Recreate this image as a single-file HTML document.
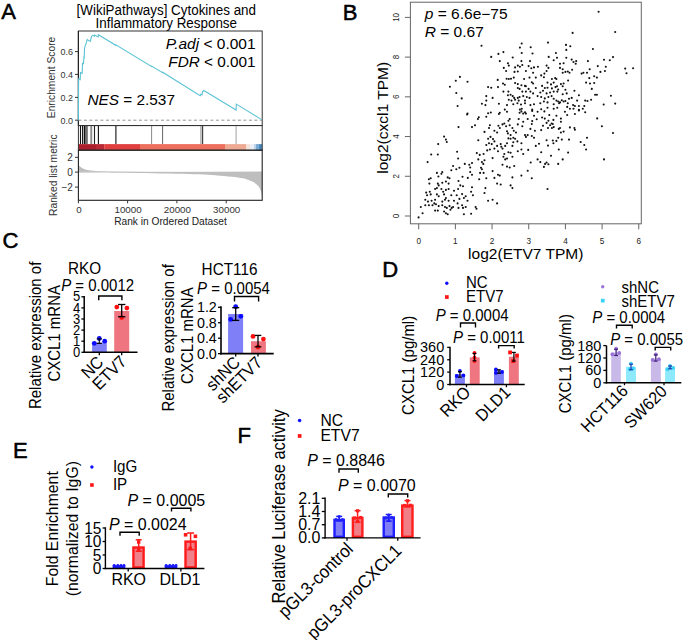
<!DOCTYPE html>
<html><head><meta charset="utf-8"><style>
html,body{margin:0;padding:0;background:#fff;width:685px;height:640px;overflow:hidden}
svg{display:block}
text{font-family:"Liberation Sans",sans-serif}
</style></head><body>
<svg width="685" height="640" viewBox="0 0 685 640">
<rect width="685" height="640" fill="#fff"/>
<text x="1.3" y="19.4" font-size="22" fill="#000" stroke="#000" stroke-width="0.55" stroke-linejoin="round">A</text>
<text font-size="13.4" text-anchor="middle" fill="#000" transform="translate(166.30,14.60) scale(1.0,1.08)">[WikiPathways] Cytokines and</text>
<text font-size="13.4" text-anchor="middle" fill="#000" transform="translate(166.30,27.70) scale(1.0,1.08)">Inflammatory Response</text>
<rect x="78.4" y="31" width="183.80" height="94.6" fill="none" stroke="#333" stroke-width="1"/>
<line x1="78.40" y1="31.00" x2="78.40" y2="125.60" stroke="#222" stroke-width="1.2" />
<line x1="78.40" y1="120.20" x2="262.20" y2="120.20" stroke="#888" stroke-width="0.9" stroke-dasharray="3,2.5"/>
<line x1="75.00" y1="120.20" x2="78.40" y2="120.20" stroke="#333" stroke-width="1" />
<text font-size="9" text-anchor="end" fill="#333" transform="translate(73.00,123.60) scale(1.0,1.08)">0.0</text>
<line x1="75.00" y1="97.40" x2="78.40" y2="97.40" stroke="#333" stroke-width="1" />
<text font-size="9" text-anchor="end" fill="#333" transform="translate(73.00,100.80) scale(1.0,1.08)">0.2</text>
<line x1="75.00" y1="74.40" x2="78.40" y2="74.40" stroke="#333" stroke-width="1" />
<text font-size="9" text-anchor="end" fill="#333" transform="translate(73.00,77.80) scale(1.0,1.08)">0.4</text>
<line x1="75.00" y1="51.60" x2="78.40" y2="51.60" stroke="#333" stroke-width="1" />
<text font-size="9" text-anchor="end" fill="#333" transform="translate(73.00,55.00) scale(1.0,1.08)">0.6</text>
<text x="55.10" y="77.45" font-size="10.25" text-anchor="middle" font-weight="normal" fill="#333" transform="rotate(-90 55.10 77.45)"  style="">Enrichment Score</text>
<path d="M78.4,120.2 L78.6,78.8 L80.2,79.6 L80.5,72.5 L82.2,73.3 L82.5,63.2 L83.5,63.6 L83.9,57.5 L84.2,57.8 L84.5,48.8 L85.3,45.2 L86,44 L86.6,41.5 L87.3,39.4 L88.5,40.6 L89.5,40.9 L90.4,41.3 L91,38.5 L91.6,36.3 L92.9,35.3 L94.3,36.1 L94.5,35 L98.2,36.9 L98.4,34.7 L115.8,45.3 L115.9,44.8 L151.5,66.4 L151.6,66 L162.5,72.6 L162.6,72.2 L200.2,95.8 L200.8,94.3 L202,95 L202.6,91.6 L203.75,90.5 L236.1,110 L236.3,104.1 L261.6,119.6" fill="none" stroke="#5cc3d4" stroke-width="1.1"/>
<text font-size="14" text-anchor="end" fill="#000" transform="translate(255.60,49.10) scale(1.107,1.07)"><tspan font-style="italic">P.adj</tspan> &lt; 0.001</text>
<text font-size="14" text-anchor="end" fill="#000" transform="translate(255.60,67.00) scale(1.095,1.07)"><tspan font-style="italic">FDR</tspan> &lt; 0.001</text>
<text font-size="14" text-anchor="start" fill="#000" transform="translate(87.50,105.30) scale(1.097,1.07)"><tspan font-style="italic">NES</tspan> = 2.537</text>
<rect x="85.00" y="125.50" width="2.80" height="18.60" fill="#6e6e6e" stroke="none" stroke-width="0" />
<rect x="90.30" y="125.50" width="1.90" height="18.60" fill="#8c8c8c" stroke="none" stroke-width="0" />
<line x1="80.50" y1="125.50" x2="80.50" y2="144.10" stroke="#111" stroke-width="1.1" />
<line x1="82.60" y1="125.50" x2="82.60" y2="144.10" stroke="#111" stroke-width="1.1" />
<line x1="84.40" y1="125.50" x2="84.40" y2="144.10" stroke="#111" stroke-width="1.2" />
<line x1="94.50" y1="125.50" x2="94.50" y2="144.10" stroke="#222" stroke-width="1.1" />
<line x1="98.40" y1="125.50" x2="98.40" y2="144.10" stroke="#111" stroke-width="1.1" />
<line x1="115.90" y1="125.50" x2="115.90" y2="144.10" stroke="#111" stroke-width="1.1" />
<line x1="151.60" y1="125.50" x2="151.60" y2="144.10" stroke="#888" stroke-width="1" />
<line x1="162.60" y1="125.50" x2="162.60" y2="144.10" stroke="#555" stroke-width="0.9" />
<line x1="200.80" y1="125.50" x2="200.80" y2="144.10" stroke="#999" stroke-width="0.9" />
<line x1="202.50" y1="125.50" x2="202.50" y2="144.10" stroke="#444" stroke-width="1.4" />
<line x1="236.10" y1="125.50" x2="236.10" y2="144.10" stroke="#aaa" stroke-width="1.1" />
<rect x="78.40" y="144.10" width="17.60" height="5.90" fill="#ac1f2c" stroke="none" stroke-width="0" />
<rect x="96.00" y="144.10" width="8.20" height="5.90" fill="#b82a35" stroke="none" stroke-width="0" />
<rect x="104.20" y="144.10" width="35.80" height="5.90" fill="#e0403f" stroke="none" stroke-width="0" />
<rect x="140.00" y="144.10" width="85.00" height="5.90" fill="#ed6f5d" stroke="none" stroke-width="0" />
<rect x="225.00" y="144.10" width="21.00" height="5.90" fill="#eeaa94" stroke="none" stroke-width="0" />
<rect x="246.00" y="144.10" width="4.00" height="5.90" fill="#f5e3da" stroke="none" stroke-width="0" />
<rect x="250.00" y="144.10" width="4.00" height="5.90" fill="#eaeef6" stroke="none" stroke-width="0" />
<rect x="254.00" y="144.10" width="2.00" height="5.90" fill="#bcd3ea" stroke="none" stroke-width="0" />
<rect x="256.00" y="144.10" width="2.50" height="5.90" fill="#7aaad4" stroke="none" stroke-width="0" />
<rect x="258.50" y="144.10" width="3.70" height="5.90" fill="#4a88c0" stroke="none" stroke-width="0" />
<rect x="78.4" y="125.5" width="183.80" height="24.70" fill="none" stroke="#333" stroke-width="1"/>
<path d="M78.4,172.1 L78.4,165 C80,166.5 82,168.8 86,169.8 C92,170.9 100,171.3 110,171.6 L150,171.9 L200,172.1 Z" fill="#bdbdbd"/>
<defs><linearGradient id="zl" gradientUnits="userSpaceOnUse" x1="78.4" y1="0" x2="262" y2="0"><stop offset="0" stop-color="#c8c8c8"/><stop offset="0.35" stop-color="#e4e4e4"/><stop offset="0.6" stop-color="#ececec"/><stop offset="0.8" stop-color="#d8d8d8"/><stop offset="1" stop-color="#c0c0c0"/></linearGradient></defs>
<path d="M78.4,172.1 L262,172.1" stroke="url(#zl)" stroke-width="1.2"/>
<path d="M110,172.1 L262,172.1 L262,196 C261.5,191 259.5,187 257.8,185.5 C255,182.5 252,181 243.4,178.3 C236,177 228.9,176.4 215,175.2 C200,174.3 160,173.5 110,172.6 Z" fill="#bebebe"/>
<rect x="78.4" y="150.2" width="183.80" height="50.10" fill="none" stroke="#222" stroke-width="1.1"/>
<line x1="75.00" y1="157.30" x2="78.40" y2="157.30" stroke="#333" stroke-width="1" />
<text font-size="10" text-anchor="end" fill="#333" transform="translate(72.90,160.90) scale(1.0,1.0)">2</text>
<line x1="75.00" y1="172.10" x2="78.40" y2="172.10" stroke="#333" stroke-width="1" />
<text font-size="10" text-anchor="end" fill="#333" transform="translate(72.90,175.70) scale(1.0,1.0)">0</text>
<line x1="75.00" y1="187.10" x2="78.40" y2="187.10" stroke="#333" stroke-width="1" />
<text font-size="10" text-anchor="end" fill="#333" transform="translate(72.90,190.70) scale(1.0,1.0)">−2</text>
<text x="56.70" y="175.20" font-size="10.25" text-anchor="middle" font-weight="normal" fill="#333" transform="rotate(-90 56.70 175.20)"  style="">Ranked list metric</text>
<line x1="78.40" y1="200.30" x2="78.40" y2="203.30" stroke="#333" stroke-width="1" />
<text font-size="9" text-anchor="middle" fill="#333" transform="translate(78.90,212.50) scale(1.09,1.08)">0</text>
<line x1="127.60" y1="200.30" x2="127.60" y2="203.30" stroke="#333" stroke-width="1" />
<text font-size="9" text-anchor="middle" fill="#333" transform="translate(128.10,212.50) scale(1.09,1.08)">10000</text>
<line x1="176.90" y1="200.30" x2="176.90" y2="203.30" stroke="#333" stroke-width="1" />
<text font-size="9" text-anchor="middle" fill="#333" transform="translate(177.40,212.50) scale(1.09,1.08)">20000</text>
<line x1="226.20" y1="200.30" x2="226.20" y2="203.30" stroke="#333" stroke-width="1" />
<text font-size="9" text-anchor="middle" fill="#333" transform="translate(226.70,212.50) scale(1.09,1.08)">30000</text>
<text x="170.50" y="224.60" font-size="10.2" text-anchor="middle" font-weight="normal" fill="#222"  style="">Rank in Ordered Dataset</text>
<text x="342.7" y="19.6" font-size="22" fill="#000" stroke="#000" stroke-width="0.55" stroke-linejoin="round">B</text>
<rect x="410.4" y="2.2" width="230.90" height="221.60" fill="none" stroke="#666" stroke-width="1"/>
<line x1="418.70" y1="223.80" x2="418.70" y2="229.30" stroke="#666" stroke-width="1" />
<text font-size="8.2" text-anchor="middle" fill="#222" transform="translate(418.70,243.50) scale(1.0,1.08)">0</text>
<line x1="455.38" y1="223.80" x2="455.38" y2="229.30" stroke="#666" stroke-width="1" />
<text font-size="8.2" text-anchor="middle" fill="#222" transform="translate(455.38,243.50) scale(1.0,1.08)">1</text>
<line x1="492.06" y1="223.80" x2="492.06" y2="229.30" stroke="#666" stroke-width="1" />
<text font-size="8.2" text-anchor="middle" fill="#222" transform="translate(492.06,243.50) scale(1.0,1.08)">2</text>
<line x1="528.74" y1="223.80" x2="528.74" y2="229.30" stroke="#666" stroke-width="1" />
<text font-size="8.2" text-anchor="middle" fill="#222" transform="translate(528.74,243.50) scale(1.0,1.08)">3</text>
<line x1="565.42" y1="223.80" x2="565.42" y2="229.30" stroke="#666" stroke-width="1" />
<text font-size="8.2" text-anchor="middle" fill="#222" transform="translate(565.42,243.50) scale(1.0,1.08)">4</text>
<line x1="602.10" y1="223.80" x2="602.10" y2="229.30" stroke="#666" stroke-width="1" />
<text font-size="8.2" text-anchor="middle" fill="#222" transform="translate(602.10,243.50) scale(1.0,1.08)">5</text>
<line x1="638.78" y1="223.80" x2="638.78" y2="229.30" stroke="#666" stroke-width="1" />
<text font-size="8.2" text-anchor="middle" fill="#222" transform="translate(638.78,243.50) scale(1.0,1.08)">6</text>
<line x1="404.90" y1="216.00" x2="410.40" y2="216.00" stroke="#666" stroke-width="1" />
<text font-size="8" text-anchor="middle" fill="#222" transform="translate(399.20,216.00) rotate(-90) scale(1.0,1.15)">0</text>
<line x1="404.90" y1="176.28" x2="410.40" y2="176.28" stroke="#666" stroke-width="1" />
<text font-size="8" text-anchor="middle" fill="#222" transform="translate(399.20,176.28) rotate(-90) scale(1.0,1.15)">2</text>
<line x1="404.90" y1="136.56" x2="410.40" y2="136.56" stroke="#666" stroke-width="1" />
<text font-size="8" text-anchor="middle" fill="#222" transform="translate(399.20,136.56) rotate(-90) scale(1.0,1.15)">4</text>
<line x1="404.90" y1="96.84" x2="410.40" y2="96.84" stroke="#666" stroke-width="1" />
<text font-size="8" text-anchor="middle" fill="#222" transform="translate(399.20,96.84) rotate(-90) scale(1.0,1.15)">6</text>
<line x1="404.90" y1="57.12" x2="410.40" y2="57.12" stroke="#666" stroke-width="1" />
<text font-size="8" text-anchor="middle" fill="#222" transform="translate(399.20,57.12) rotate(-90) scale(1.0,1.15)">8</text>
<line x1="404.90" y1="17.40" x2="410.40" y2="17.40" stroke="#666" stroke-width="1" />
<text font-size="8" text-anchor="middle" fill="#222" transform="translate(399.20,17.40) rotate(-90) scale(1.0,1.15)">10</text>
<text font-size="14" text-anchor="middle" transform="translate(525.8,259.4) scale(1.11,1)">log2(ETV7 TPM)</text>
<text font-size="14" text-anchor="middle" transform="translate(388.4,117.8) rotate(-90) scale(1.11,1)">log2(cxcl1 TPM)</text>
<text font-size="14" transform="translate(424.7,18.9) scale(1.11,1.04)"><tspan font-style="italic">p</tspan> = 6.6e−75</text>
<text font-size="14" transform="translate(424.7,37.4) scale(1.11,1.04)"><tspan font-style="italic">R</tspan> = 0.67</text>
<g fill="#111"><circle cx="467.5" cy="113.6" r="1.05"/><circle cx="467.1" cy="114.5" r="1.05"/><circle cx="488.1" cy="113.2" r="1.05"/><circle cx="490.8" cy="112.5" r="1.05"/><circle cx="498.9" cy="114.0" r="1.05"/><circle cx="499.8" cy="112.7" r="1.05"/><circle cx="507.0" cy="111.8" r="1.05"/><circle cx="519.6" cy="112.7" r="1.05"/><circle cx="521.4" cy="111.4" r="1.05"/><circle cx="523.2" cy="113.6" r="1.05"/><circle cx="525.0" cy="112.2" r="1.05"/><circle cx="478.8" cy="117.2" r="1.05"/><circle cx="477.9" cy="119.0" r="1.05"/><circle cx="486.3" cy="116.8" r="1.05"/><circle cx="509.7" cy="119.0" r="1.05"/><circle cx="508.4" cy="120.8" r="1.05"/><circle cx="518.7" cy="119.0" r="1.05"/><circle cx="523.2" cy="121.7" r="1.05"/><circle cx="458.5" cy="127.1" r="1.05"/><circle cx="472.0" cy="127.1" r="1.05"/><circle cx="475.0" cy="125.3" r="1.05"/><circle cx="489.0" cy="128.0" r="1.05"/><circle cx="489.9" cy="125.3" r="1.05"/><circle cx="498.4" cy="125.8" r="1.05"/><circle cx="499.8" cy="128.0" r="1.05"/><circle cx="504.3" cy="123.5" r="1.05"/><circle cx="502.5" cy="124.4" r="1.05"/><circle cx="506.1" cy="126.2" r="1.05"/><circle cx="509.7" cy="125.3" r="1.05"/><circle cx="512.4" cy="128.0" r="1.05"/><circle cx="513.8" cy="130.7" r="1.05"/><circle cx="517.8" cy="124.4" r="1.05"/><circle cx="522.3" cy="126.2" r="1.05"/><circle cx="484.5" cy="131.9" r="1.05"/><circle cx="494.4" cy="130.7" r="1.05"/><circle cx="497.1" cy="132.5" r="1.05"/><circle cx="507.0" cy="131.2" r="1.05"/><circle cx="507.9" cy="133.4" r="1.05"/><circle cx="516.0" cy="132.5" r="1.05"/><circle cx="510.6" cy="135.1" r="1.05"/><circle cx="525.0" cy="135.1" r="1.05"/><circle cx="444.1" cy="136.6" r="1.05"/><circle cx="445.9" cy="139.6" r="1.05"/><circle cx="446.8" cy="142.0" r="1.05"/><circle cx="478.3" cy="140.2" r="1.05"/><circle cx="488.1" cy="138.7" r="1.05"/><circle cx="490.5" cy="136.9" r="1.05"/><circle cx="493.0" cy="139.1" r="1.05"/><circle cx="494.4" cy="141.4" r="1.05"/><circle cx="489.0" cy="143.2" r="1.05"/><circle cx="491.7" cy="144.1" r="1.05"/><circle cx="508.4" cy="138.4" r="1.05"/><circle cx="510.6" cy="138.7" r="1.05"/><circle cx="513.3" cy="137.8" r="1.05"/><circle cx="515.1" cy="138.7" r="1.05"/><circle cx="517.4" cy="141.4" r="1.05"/><circle cx="513.3" cy="142.3" r="1.05"/><circle cx="521.4" cy="143.2" r="1.05"/><circle cx="438.2" cy="144.1" r="1.05"/><circle cx="486.3" cy="145.0" r="1.05"/><circle cx="497.1" cy="145.9" r="1.05"/><circle cx="501.3" cy="146.8" r="1.05"/><circle cx="502.5" cy="148.6" r="1.05"/><circle cx="500.7" cy="144.1" r="1.05"/><circle cx="505.2" cy="145.9" r="1.05"/><circle cx="507.0" cy="143.2" r="1.05"/><circle cx="512.4" cy="145.9" r="1.05"/><circle cx="431.2" cy="154.5" r="1.05"/><circle cx="437.8" cy="154.5" r="1.05"/><circle cx="457.1" cy="151.7" r="1.05"/><circle cx="458.1" cy="158.5" r="1.05"/><circle cx="476.8" cy="153.1" r="1.05"/><circle cx="479.7" cy="154.9" r="1.05"/><circle cx="483.6" cy="154.0" r="1.05"/><circle cx="487.2" cy="150.4" r="1.05"/><circle cx="489.9" cy="149.5" r="1.05"/><circle cx="494.4" cy="148.6" r="1.05"/><circle cx="498.0" cy="151.3" r="1.05"/><circle cx="504.3" cy="154.0" r="1.05"/><circle cx="508.4" cy="152.2" r="1.05"/><circle cx="510.6" cy="152.8" r="1.05"/><circle cx="512.4" cy="156.7" r="1.05"/><circle cx="517.8" cy="151.3" r="1.05"/><circle cx="521.4" cy="149.5" r="1.05"/><circle cx="523.2" cy="154.0" r="1.05"/><circle cx="427.6" cy="162.1" r="1.05"/><circle cx="464.8" cy="163.9" r="1.05"/><circle cx="469.3" cy="164.8" r="1.05"/><circle cx="472.0" cy="163.0" r="1.05"/><circle cx="478.3" cy="159.4" r="1.05"/><circle cx="481.9" cy="162.1" r="1.05"/><circle cx="484.5" cy="160.3" r="1.05"/><circle cx="483.3" cy="163.9" r="1.05"/><circle cx="492.6" cy="158.1" r="1.05"/><circle cx="503.4" cy="156.7" r="1.05"/><circle cx="505.2" cy="159.4" r="1.05"/><circle cx="507.0" cy="158.5" r="1.05"/><circle cx="453.1" cy="166.0" r="1.05"/><circle cx="456.3" cy="169.3" r="1.05"/><circle cx="459.4" cy="167.8" r="1.05"/><circle cx="470.2" cy="167.5" r="1.05"/><circle cx="481.0" cy="167.8" r="1.05"/><circle cx="481.9" cy="169.3" r="1.05"/><circle cx="502.5" cy="164.8" r="1.05"/><circle cx="507.0" cy="166.6" r="1.05"/><circle cx="509.7" cy="167.5" r="1.05"/><circle cx="514.2" cy="166.0" r="1.05"/><circle cx="436.9" cy="172.9" r="1.05"/><circle cx="442.3" cy="172.0" r="1.05"/><circle cx="441.4" cy="173.8" r="1.05"/><circle cx="451.3" cy="170.2" r="1.05"/><circle cx="470.2" cy="172.0" r="1.05"/><circle cx="472.0" cy="174.7" r="1.05"/><circle cx="480.1" cy="172.9" r="1.05"/><circle cx="483.6" cy="172.9" r="1.05"/><circle cx="492.6" cy="171.1" r="1.05"/><circle cx="428.9" cy="179.2" r="1.05"/><circle cx="430.7" cy="178.3" r="1.05"/><circle cx="447.7" cy="177.4" r="1.05"/><circle cx="449.5" cy="178.3" r="1.05"/><circle cx="438.4" cy="176.5" r="1.05"/><circle cx="462.5" cy="176.8" r="1.05"/><circle cx="467.8" cy="177.9" r="1.05"/><circle cx="479.2" cy="179.2" r="1.05"/><circle cx="486.3" cy="178.3" r="1.05"/><circle cx="494.4" cy="177.9" r="1.05"/><circle cx="498.0" cy="174.7" r="1.05"/><circle cx="499.8" cy="175.6" r="1.05"/><circle cx="512.4" cy="177.4" r="1.05"/><circle cx="521.4" cy="175.6" r="1.05"/><circle cx="429.4" cy="183.6" r="1.05"/><circle cx="437.8" cy="183.6" r="1.05"/><circle cx="438.7" cy="185.4" r="1.05"/><circle cx="442.3" cy="182.8" r="1.05"/><circle cx="445.9" cy="181.5" r="1.05"/><circle cx="448.6" cy="183.6" r="1.05"/><circle cx="458.5" cy="181.0" r="1.05"/><circle cx="460.3" cy="185.4" r="1.05"/><circle cx="497.1" cy="183.6" r="1.05"/><circle cx="500.7" cy="184.5" r="1.05"/><circle cx="510.6" cy="185.4" r="1.05"/><circle cx="512.4" cy="188.1" r="1.05"/><circle cx="426.2" cy="192.6" r="1.05"/><circle cx="429.8" cy="191.7" r="1.05"/><circle cx="435.1" cy="189.0" r="1.05"/><circle cx="436.9" cy="188.1" r="1.05"/><circle cx="441.4" cy="189.0" r="1.05"/><circle cx="443.2" cy="191.7" r="1.05"/><circle cx="445.9" cy="189.9" r="1.05"/><circle cx="448.6" cy="189.0" r="1.05"/><circle cx="454.0" cy="190.8" r="1.05"/><circle cx="458.1" cy="189.0" r="1.05"/><circle cx="463.0" cy="186.3" r="1.05"/><circle cx="472.0" cy="187.2" r="1.05"/><circle cx="485.4" cy="188.1" r="1.05"/><circle cx="471.1" cy="191.7" r="1.05"/><circle cx="427.1" cy="195.3" r="1.05"/><circle cx="430.7" cy="194.4" r="1.05"/><circle cx="436.9" cy="194.4" r="1.05"/><circle cx="438.7" cy="196.2" r="1.05"/><circle cx="444.1" cy="194.4" r="1.05"/><circle cx="445.9" cy="198.0" r="1.05"/><circle cx="451.3" cy="195.3" r="1.05"/><circle cx="456.7" cy="195.3" r="1.05"/><circle cx="462.1" cy="194.1" r="1.05"/><circle cx="465.7" cy="196.2" r="1.05"/><circle cx="472.9" cy="195.3" r="1.05"/><circle cx="484.5" cy="193.0" r="1.05"/><circle cx="425.3" cy="199.8" r="1.05"/><circle cx="428.0" cy="201.6" r="1.05"/><circle cx="431.6" cy="200.7" r="1.05"/><circle cx="435.1" cy="199.8" r="1.05"/><circle cx="442.3" cy="201.6" r="1.05"/><circle cx="445.0" cy="199.8" r="1.05"/><circle cx="448.6" cy="200.7" r="1.05"/><circle cx="454.0" cy="200.7" r="1.05"/><circle cx="459.4" cy="198.9" r="1.05"/><circle cx="463.9" cy="198.0" r="1.05"/><circle cx="467.5" cy="200.7" r="1.05"/><circle cx="488.1" cy="200.7" r="1.05"/><circle cx="492.6" cy="199.8" r="1.05"/><circle cx="497.1" cy="203.4" r="1.05"/><circle cx="420.8" cy="207.0" r="1.05"/><circle cx="425.3" cy="205.2" r="1.05"/><circle cx="428.9" cy="205.2" r="1.05"/><circle cx="432.5" cy="205.2" r="1.05"/><circle cx="434.3" cy="203.4" r="1.05"/><circle cx="436.0" cy="204.3" r="1.05"/><circle cx="438.7" cy="206.1" r="1.05"/><circle cx="442.3" cy="205.2" r="1.05"/><circle cx="445.0" cy="207.0" r="1.05"/><circle cx="446.8" cy="207.9" r="1.05"/><circle cx="449.5" cy="206.1" r="1.05"/><circle cx="451.7" cy="207.9" r="1.05"/><circle cx="453.1" cy="207.0" r="1.05"/><circle cx="457.6" cy="203.4" r="1.05"/><circle cx="458.5" cy="207.9" r="1.05"/><circle cx="462.1" cy="205.2" r="1.05"/><circle cx="463.0" cy="207.9" r="1.05"/><circle cx="465.7" cy="207.0" r="1.05"/><circle cx="475.6" cy="207.0" r="1.05"/><circle cx="476.5" cy="208.8" r="1.05"/><circle cx="422.6" cy="213.3" r="1.05"/><circle cx="435.1" cy="210.6" r="1.05"/><circle cx="437.8" cy="210.6" r="1.05"/><circle cx="444.1" cy="211.5" r="1.05"/><circle cx="445.9" cy="213.3" r="1.05"/><circle cx="447.7" cy="214.2" r="1.05"/><circle cx="450.4" cy="209.7" r="1.05"/><circle cx="463.9" cy="214.2" r="1.05"/><circle cx="471.1" cy="213.8" r="1.05"/><circle cx="418.6" cy="217.4" r="1.05"/><circle cx="525.9" cy="113.6" r="1.05"/><circle cx="532.2" cy="110.9" r="1.05"/><circle cx="537.6" cy="111.8" r="1.05"/><circle cx="544.4" cy="111.4" r="1.05"/><circle cx="564.9" cy="111.8" r="1.05"/><circle cx="578.9" cy="110.4" r="1.05"/><circle cx="585.2" cy="112.2" r="1.05"/><circle cx="527.7" cy="119.0" r="1.05"/><circle cx="532.2" cy="121.1" r="1.05"/><circle cx="534.0" cy="115.7" r="1.05"/><circle cx="536.7" cy="119.3" r="1.05"/><circle cx="542.1" cy="117.5" r="1.05"/><circle cx="544.8" cy="118.6" r="1.05"/><circle cx="549.3" cy="115.0" r="1.05"/><circle cx="553.4" cy="119.9" r="1.05"/><circle cx="556.4" cy="115.7" r="1.05"/><circle cx="560.9" cy="118.6" r="1.05"/><circle cx="567.2" cy="115.0" r="1.05"/><circle cx="574.9" cy="114.0" r="1.05"/><circle cx="597.2" cy="118.4" r="1.05"/><circle cx="531.8" cy="124.0" r="1.05"/><circle cx="543.0" cy="125.8" r="1.05"/><circle cx="546.6" cy="122.9" r="1.05"/><circle cx="548.4" cy="120.8" r="1.05"/><circle cx="550.1" cy="125.3" r="1.05"/><circle cx="551.6" cy="123.5" r="1.05"/><circle cx="552.8" cy="124.0" r="1.05"/><circle cx="553.7" cy="127.1" r="1.05"/><circle cx="560.9" cy="121.7" r="1.05"/><circle cx="551.9" cy="128.0" r="1.05"/><circle cx="548.0" cy="128.0" r="1.05"/><circle cx="569.9" cy="127.4" r="1.05"/><circle cx="574.4" cy="128.0" r="1.05"/><circle cx="574.9" cy="129.8" r="1.05"/><circle cx="601.9" cy="126.2" r="1.05"/><circle cx="530.4" cy="128.9" r="1.05"/><circle cx="534.9" cy="130.7" r="1.05"/><circle cx="541.2" cy="130.1" r="1.05"/><circle cx="558.8" cy="128.9" r="1.05"/><circle cx="560.0" cy="128.0" r="1.05"/><circle cx="560.9" cy="132.5" r="1.05"/><circle cx="563.6" cy="131.6" r="1.05"/><circle cx="613.0" cy="133.0" r="1.05"/><circle cx="525.9" cy="136.9" r="1.05"/><circle cx="527.7" cy="135.1" r="1.05"/><circle cx="531.8" cy="136.0" r="1.05"/><circle cx="534.0" cy="137.8" r="1.05"/><circle cx="546.6" cy="140.2" r="1.05"/><circle cx="552.8" cy="140.5" r="1.05"/><circle cx="556.4" cy="140.9" r="1.05"/><circle cx="558.2" cy="137.8" r="1.05"/><circle cx="553.4" cy="143.2" r="1.05"/><circle cx="561.8" cy="139.6" r="1.05"/><circle cx="569.0" cy="139.6" r="1.05"/><circle cx="580.7" cy="142.0" r="1.05"/><circle cx="587.0" cy="137.8" r="1.05"/><circle cx="584.3" cy="145.0" r="1.05"/><circle cx="535.8" cy="145.9" r="1.05"/><circle cx="539.0" cy="143.8" r="1.05"/><circle cx="528.2" cy="149.9" r="1.05"/><circle cx="548.0" cy="145.6" r="1.05"/><circle cx="541.2" cy="152.2" r="1.05"/><circle cx="558.8" cy="149.5" r="1.05"/><circle cx="568.1" cy="152.6" r="1.05"/><circle cx="586.1" cy="149.5" r="1.05"/><circle cx="551.0" cy="155.8" r="1.05"/><circle cx="537.6" cy="159.4" r="1.05"/><circle cx="540.3" cy="162.1" r="1.05"/><circle cx="530.7" cy="162.5" r="1.05"/><circle cx="545.1" cy="163.9" r="1.05"/><circle cx="546.6" cy="162.5" r="1.05"/><circle cx="548.4" cy="164.2" r="1.05"/><circle cx="543.9" cy="166.9" r="1.05"/><circle cx="558.2" cy="163.9" r="1.05"/><circle cx="562.7" cy="159.4" r="1.05"/><circle cx="604.0" cy="159.4" r="1.05"/><circle cx="527.7" cy="170.7" r="1.05"/><circle cx="531.8" cy="178.3" r="1.05"/><circle cx="547.5" cy="189.0" r="1.05"/><circle cx="598.6" cy="11.7" r="1.05"/><circle cx="572.6" cy="32.9" r="1.05"/><circle cx="615.2" cy="32.0" r="1.05"/><circle cx="548.0" cy="42.6" r="1.05"/><circle cx="530.7" cy="47.2" r="1.05"/><circle cx="566.0" cy="44.9" r="1.05"/><circle cx="570.3" cy="46.3" r="1.05"/><circle cx="566.3" cy="49.9" r="1.05"/><circle cx="592.9" cy="49.0" r="1.05"/><circle cx="532.5" cy="53.5" r="1.05"/><circle cx="555.9" cy="53.0" r="1.05"/><circle cx="548.7" cy="56.9" r="1.05"/><circle cx="557.0" cy="57.8" r="1.05"/><circle cx="566.3" cy="57.8" r="1.05"/><circle cx="613.0" cy="57.1" r="1.05"/><circle cx="530.0" cy="61.1" r="1.05"/><circle cx="553.7" cy="60.2" r="1.05"/><circle cx="560.0" cy="63.8" r="1.05"/><circle cx="563.6" cy="63.2" r="1.05"/><circle cx="571.7" cy="59.6" r="1.05"/><circle cx="573.5" cy="62.0" r="1.05"/><circle cx="576.2" cy="61.1" r="1.05"/><circle cx="575.7" cy="63.8" r="1.05"/><circle cx="587.9" cy="61.1" r="1.05"/><circle cx="604.0" cy="59.8" r="1.05"/><circle cx="609.8" cy="60.2" r="1.05"/><circle cx="528.6" cy="66.1" r="1.05"/><circle cx="531.3" cy="68.3" r="1.05"/><circle cx="534.0" cy="67.4" r="1.05"/><circle cx="537.9" cy="66.8" r="1.05"/><circle cx="546.6" cy="65.6" r="1.05"/><circle cx="548.4" cy="67.9" r="1.05"/><circle cx="560.0" cy="67.9" r="1.05"/><circle cx="562.7" cy="69.2" r="1.05"/><circle cx="565.4" cy="71.9" r="1.05"/><circle cx="567.8" cy="71.5" r="1.05"/><circle cx="572.1" cy="69.7" r="1.05"/><circle cx="581.6" cy="73.6" r="1.05"/><circle cx="583.4" cy="72.8" r="1.05"/><circle cx="587.0" cy="72.8" r="1.05"/><circle cx="589.7" cy="69.2" r="1.05"/><circle cx="597.8" cy="66.1" r="1.05"/><circle cx="600.4" cy="71.9" r="1.05"/><circle cx="604.9" cy="71.0" r="1.05"/><circle cx="605.8" cy="66.8" r="1.05"/><circle cx="625.2" cy="68.6" r="1.05"/><circle cx="626.5" cy="73.3" r="1.05"/><circle cx="633.1" cy="68.3" r="1.05"/><circle cx="525.9" cy="71.0" r="1.05"/><circle cx="533.1" cy="72.8" r="1.05"/><circle cx="546.6" cy="71.0" r="1.05"/><circle cx="544.4" cy="73.6" r="1.05"/><circle cx="541.2" cy="75.4" r="1.05"/><circle cx="543.9" cy="77.2" r="1.05"/><circle cx="529.5" cy="77.6" r="1.05"/><circle cx="535.8" cy="77.6" r="1.05"/><circle cx="551.9" cy="79.0" r="1.05"/><circle cx="555.2" cy="78.1" r="1.05"/><circle cx="556.4" cy="79.0" r="1.05"/><circle cx="562.7" cy="72.8" r="1.05"/><circle cx="569.5" cy="72.8" r="1.05"/><circle cx="589.3" cy="78.1" r="1.05"/><circle cx="594.2" cy="76.3" r="1.05"/><circle cx="596.9" cy="77.6" r="1.05"/><circle cx="531.8" cy="82.3" r="1.05"/><circle cx="533.1" cy="83.5" r="1.05"/><circle cx="547.5" cy="82.6" r="1.05"/><circle cx="551.0" cy="84.4" r="1.05"/><circle cx="553.7" cy="82.6" r="1.05"/><circle cx="560.9" cy="84.1" r="1.05"/><circle cx="563.6" cy="83.5" r="1.05"/><circle cx="568.1" cy="80.5" r="1.05"/><circle cx="586.1" cy="82.6" r="1.05"/><circle cx="590.0" cy="83.5" r="1.05"/><circle cx="594.2" cy="83.0" r="1.05"/><circle cx="525.9" cy="86.2" r="1.05"/><circle cx="528.6" cy="88.9" r="1.05"/><circle cx="535.8" cy="88.0" r="1.05"/><circle cx="542.1" cy="85.9" r="1.05"/><circle cx="544.8" cy="88.0" r="1.05"/><circle cx="547.5" cy="87.7" r="1.05"/><circle cx="551.9" cy="88.4" r="1.05"/><circle cx="555.5" cy="87.1" r="1.05"/><circle cx="557.0" cy="86.2" r="1.05"/><circle cx="558.2" cy="89.5" r="1.05"/><circle cx="562.7" cy="86.2" r="1.05"/><circle cx="565.4" cy="89.8" r="1.05"/><circle cx="591.8" cy="88.9" r="1.05"/><circle cx="525.9" cy="91.6" r="1.05"/><circle cx="530.4" cy="91.6" r="1.05"/><circle cx="533.1" cy="93.4" r="1.05"/><circle cx="540.3" cy="92.5" r="1.05"/><circle cx="543.0" cy="90.7" r="1.05"/><circle cx="546.6" cy="93.4" r="1.05"/><circle cx="550.1" cy="92.5" r="1.05"/><circle cx="553.7" cy="91.6" r="1.05"/><circle cx="557.3" cy="91.6" r="1.05"/><circle cx="562.7" cy="94.3" r="1.05"/><circle cx="566.7" cy="93.4" r="1.05"/><circle cx="574.4" cy="90.7" r="1.05"/><circle cx="578.9" cy="95.2" r="1.05"/><circle cx="595.1" cy="94.8" r="1.05"/><circle cx="596.9" cy="94.8" r="1.05"/><circle cx="610.9" cy="95.7" r="1.05"/><circle cx="526.8" cy="97.0" r="1.05"/><circle cx="529.5" cy="97.9" r="1.05"/><circle cx="537.6" cy="96.1" r="1.05"/><circle cx="541.2" cy="97.0" r="1.05"/><circle cx="544.8" cy="98.4" r="1.05"/><circle cx="548.4" cy="97.0" r="1.05"/><circle cx="551.6" cy="96.1" r="1.05"/><circle cx="553.7" cy="98.8" r="1.05"/><circle cx="556.4" cy="100.6" r="1.05"/><circle cx="558.2" cy="101.5" r="1.05"/><circle cx="560.0" cy="102.4" r="1.05"/><circle cx="561.8" cy="100.2" r="1.05"/><circle cx="563.6" cy="101.5" r="1.05"/><circle cx="565.4" cy="101.0" r="1.05"/><circle cx="569.0" cy="98.8" r="1.05"/><circle cx="571.7" cy="97.9" r="1.05"/><circle cx="577.1" cy="100.6" r="1.05"/><circle cx="585.2" cy="100.6" r="1.05"/><circle cx="587.5" cy="101.0" r="1.05"/><circle cx="591.1" cy="99.7" r="1.05"/><circle cx="530.4" cy="105.1" r="1.05"/><circle cx="534.0" cy="104.2" r="1.05"/><circle cx="540.3" cy="103.3" r="1.05"/><circle cx="543.9" cy="101.5" r="1.05"/><circle cx="547.5" cy="102.4" r="1.05"/><circle cx="553.7" cy="104.2" r="1.05"/><circle cx="559.1" cy="103.3" r="1.05"/><circle cx="567.8" cy="103.3" r="1.05"/><circle cx="573.1" cy="105.1" r="1.05"/><circle cx="574.9" cy="106.0" r="1.05"/><circle cx="578.9" cy="106.0" r="1.05"/><circle cx="584.3" cy="106.0" r="1.05"/><circle cx="603.7" cy="104.5" r="1.05"/><circle cx="615.2" cy="103.6" r="1.05"/><circle cx="532.2" cy="109.6" r="1.05"/><circle cx="541.2" cy="109.2" r="1.05"/><circle cx="547.5" cy="107.8" r="1.05"/><circle cx="553.7" cy="108.7" r="1.05"/><circle cx="557.3" cy="107.8" r="1.05"/><circle cx="567.2" cy="106.9" r="1.05"/><circle cx="569.9" cy="108.7" r="1.05"/><circle cx="573.5" cy="108.7" r="1.05"/><circle cx="578.9" cy="109.9" r="1.05"/><circle cx="582.8" cy="108.7" r="1.05"/><circle cx="481.5" cy="45.8" r="1.05"/><circle cx="459.9" cy="76.9" r="1.05"/><circle cx="455.8" cy="80.8" r="1.05"/><circle cx="467.5" cy="81.7" r="1.05"/><circle cx="449.9" cy="86.8" r="1.05"/><circle cx="456.3" cy="93.0" r="1.05"/><circle cx="461.7" cy="98.4" r="1.05"/><circle cx="457.6" cy="106.0" r="1.05"/><circle cx="521.7" cy="43.5" r="1.05"/><circle cx="519.9" cy="47.6" r="1.05"/><circle cx="498.4" cy="53.9" r="1.05"/><circle cx="503.4" cy="52.1" r="1.05"/><circle cx="491.2" cy="56.9" r="1.05"/><circle cx="512.7" cy="57.5" r="1.05"/><circle cx="521.7" cy="53.0" r="1.05"/><circle cx="499.8" cy="61.1" r="1.05"/><circle cx="507.9" cy="63.2" r="1.05"/><circle cx="508.8" cy="65.6" r="1.05"/><circle cx="521.4" cy="61.1" r="1.05"/><circle cx="503.8" cy="67.9" r="1.05"/><circle cx="506.1" cy="71.0" r="1.05"/><circle cx="515.1" cy="67.4" r="1.05"/><circle cx="517.8" cy="65.6" r="1.05"/><circle cx="519.9" cy="66.8" r="1.05"/><circle cx="522.3" cy="65.0" r="1.05"/><circle cx="514.5" cy="71.9" r="1.05"/><circle cx="517.8" cy="71.5" r="1.05"/><circle cx="497.7" cy="79.9" r="1.05"/><circle cx="506.6" cy="78.7" r="1.05"/><circle cx="508.8" cy="79.0" r="1.05"/><circle cx="511.0" cy="78.7" r="1.05"/><circle cx="513.8" cy="77.6" r="1.05"/><circle cx="524.1" cy="79.0" r="1.05"/><circle cx="503.0" cy="83.5" r="1.05"/><circle cx="504.8" cy="84.8" r="1.05"/><circle cx="498.0" cy="87.1" r="1.05"/><circle cx="488.1" cy="87.1" r="1.05"/><circle cx="491.2" cy="87.7" r="1.05"/><circle cx="515.1" cy="83.0" r="1.05"/><circle cx="517.8" cy="84.1" r="1.05"/><circle cx="521.4" cy="85.3" r="1.05"/><circle cx="525.0" cy="85.9" r="1.05"/><circle cx="503.4" cy="91.6" r="1.05"/><circle cx="508.4" cy="91.6" r="1.05"/><circle cx="517.8" cy="88.0" r="1.05"/><circle cx="519.6" cy="88.9" r="1.05"/><circle cx="522.3" cy="91.6" r="1.05"/><circle cx="486.3" cy="96.1" r="1.05"/><circle cx="492.6" cy="97.9" r="1.05"/><circle cx="507.9" cy="95.2" r="1.05"/><circle cx="510.6" cy="94.8" r="1.05"/><circle cx="512.7" cy="96.1" r="1.05"/><circle cx="514.2" cy="97.9" r="1.05"/><circle cx="517.8" cy="97.9" r="1.05"/><circle cx="519.6" cy="97.0" r="1.05"/><circle cx="523.2" cy="96.1" r="1.05"/><circle cx="486.3" cy="100.6" r="1.05"/><circle cx="508.8" cy="99.7" r="1.05"/><circle cx="511.5" cy="100.6" r="1.05"/><circle cx="515.1" cy="99.7" r="1.05"/><circle cx="518.7" cy="100.6" r="1.05"/><circle cx="525.0" cy="100.6" r="1.05"/><circle cx="481.9" cy="103.8" r="1.05"/><circle cx="485.4" cy="105.1" r="1.05"/><circle cx="498.9" cy="103.8" r="1.05"/><circle cx="507.0" cy="105.1" r="1.05"/><circle cx="513.3" cy="104.2" r="1.05"/><circle cx="517.4" cy="103.3" r="1.05"/><circle cx="521.0" cy="104.5" r="1.05"/><circle cx="525.0" cy="103.3" r="1.05"/><circle cx="504.8" cy="109.6" r="1.05"/><circle cx="519.9" cy="109.6" r="1.05"/><circle cx="521.7" cy="108.7" r="1.05"/></g>
<text x="2.6" y="247.6" font-size="22" fill="#000" stroke="#000" stroke-width="0.55" stroke-linejoin="round">C</text>
<text font-size="15.3" text-anchor="middle" font-weight="normal" fill="#000" transform="translate(84.50,273.75) scale(1,1.07)" >RKO</text>
<text font-size="15" text-anchor="middle" font-weight="normal" fill="#000" transform="translate(97.60,290.60) scale(1,1.07)" ><tspan font-style="italic">P</tspan> = 0.0012</text>
<text font-size="15" text-anchor="start" font-weight="normal" fill="#000" transform="translate(41.20,409.10) rotate(-90) scale(1,1.07)" >Relative expression of</text>
<text font-size="15" text-anchor="start" font-weight="normal" fill="#000" transform="translate(60.10,381.60) rotate(-90) scale(1,1.07)" >CXCL1 mRNA</text>
<rect x="92.10" y="342.50" width="14.70" height="9.80" fill="#7f7ff7" stroke="none" stroke-width="0" />
<rect x="114.20" y="311.00" width="15.00" height="41.30" fill="#ef7580" stroke="none" stroke-width="0" />
<circle cx="94.30" cy="343.30" r="2.4" fill="#0a0aff"/>
<circle cx="99.30" cy="338.50" r="2.4" fill="#0a0aff"/>
<circle cx="104.70" cy="341.20" r="2.4" fill="#0a0aff"/>
<circle cx="116.80" cy="307.10" r="2.4" fill="#ff1010"/>
<circle cx="126.90" cy="308.10" r="2.4" fill="#ff1010"/>
<circle cx="121.70" cy="317.60" r="2.4" fill="#ff1010"/>
<line x1="99.30" y1="338.90" x2="99.30" y2="343.40" stroke="#000" stroke-width="1.1" />
<line x1="96.80" y1="338.90" x2="101.80" y2="338.90" stroke="#000" stroke-width="1.1" />
<line x1="96.80" y1="343.40" x2="101.80" y2="343.40" stroke="#000" stroke-width="1.1" />
<line x1="121.70" y1="304.50" x2="121.70" y2="316.70" stroke="#000" stroke-width="1.3" />
<line x1="118.05" y1="304.50" x2="125.35" y2="304.50" stroke="#000" stroke-width="1.3" />
<line x1="118.05" y1="316.70" x2="125.35" y2="316.70" stroke="#000" stroke-width="1.3" />
<line x1="84.20" y1="296.00" x2="84.20" y2="353.00" stroke="#000" stroke-width="1.5" />
<line x1="83.50" y1="352.30" x2="137.50" y2="352.30" stroke="#000" stroke-width="1.5" />
<line x1="81.40" y1="352.30" x2="84.20" y2="352.30" stroke="#000" stroke-width="1.3" />
<text font-size="13" text-anchor="end" font-weight="normal" fill="#000" transform="translate(80.20,356.90) scale(1,1.07)" >0</text>
<line x1="81.40" y1="341.20" x2="84.20" y2="341.20" stroke="#000" stroke-width="1.3" />
<text font-size="13" text-anchor="end" font-weight="normal" fill="#000" transform="translate(80.20,345.80) scale(1,1.07)" >1</text>
<line x1="81.40" y1="330.10" x2="84.20" y2="330.10" stroke="#000" stroke-width="1.3" />
<text font-size="13" text-anchor="end" font-weight="normal" fill="#000" transform="translate(80.20,334.70) scale(1,1.07)" >2</text>
<line x1="81.40" y1="319.00" x2="84.20" y2="319.00" stroke="#000" stroke-width="1.3" />
<text font-size="13" text-anchor="end" font-weight="normal" fill="#000" transform="translate(80.20,323.60) scale(1,1.07)" >3</text>
<line x1="81.40" y1="307.90" x2="84.20" y2="307.90" stroke="#000" stroke-width="1.3" />
<text font-size="13" text-anchor="end" font-weight="normal" fill="#000" transform="translate(80.20,312.50) scale(1,1.07)" >4</text>
<line x1="81.40" y1="296.80" x2="84.20" y2="296.80" stroke="#000" stroke-width="1.3" />
<text font-size="13" text-anchor="end" font-weight="normal" fill="#000" transform="translate(80.20,301.40) scale(1,1.07)" >5</text>
<line x1="99.30" y1="352.30" x2="99.30" y2="355.20" stroke="#000" stroke-width="1.3" />
<line x1="121.70" y1="352.30" x2="121.70" y2="355.20" stroke="#000" stroke-width="1.3" />
<path d="M98.75,300.30 V296.00 H121.90 V300.30" fill="none" stroke="#000" stroke-width="1.4"/>
<text font-size="16" text-anchor="end" font-weight="normal" fill="#000" transform="translate(104.50,363.30) rotate(-45) scale(1,1.07)" >NC</text>
<text font-size="16" text-anchor="end" font-weight="normal" fill="#000" transform="translate(127.50,362.80) rotate(-45) scale(1,1.07)" >ETV7</text>
<text font-size="15.3" text-anchor="middle" font-weight="normal" fill="#000" transform="translate(229.50,275.30) scale(1,1.07)" >HCT116</text>
<text font-size="15" text-anchor="middle" font-weight="normal" fill="#000" transform="translate(233.50,294.10) scale(1,1.07)" ><tspan font-style="italic">P</tspan> = 0.0054</text>
<text font-size="15" text-anchor="start" font-weight="normal" fill="#000" transform="translate(173.80,411.60) rotate(-90) scale(1,1.07)" >Relative expression of</text>
<text font-size="15" text-anchor="start" font-weight="normal" fill="#000" transform="translate(193.00,383.90) rotate(-90) scale(1,1.07)" >CXCL1 mRNA</text>
<rect x="228.10" y="314.00" width="15.00" height="39.65" fill="#7f7ff7" stroke="none" stroke-width="0" />
<rect x="251.00" y="341.20" width="14.90" height="12.45" fill="#ef7580" stroke="none" stroke-width="0" />
<circle cx="235.70" cy="306.70" r="2.4" fill="#0a0aff"/>
<circle cx="230.70" cy="319.40" r="2.4" fill="#0a0aff"/>
<circle cx="240.80" cy="316.30" r="2.4" fill="#0a0aff"/>
<circle cx="253.00" cy="336.40" r="2.4" fill="#ff1010"/>
<circle cx="263.40" cy="339.10" r="2.4" fill="#ff1010"/>
<circle cx="258.00" cy="347.00" r="2.4" fill="#ff1010"/>
<line x1="235.70" y1="307.70" x2="235.70" y2="320.40" stroke="#000" stroke-width="1.3" />
<line x1="232.20" y1="307.70" x2="239.20" y2="307.70" stroke="#000" stroke-width="1.3" />
<line x1="232.20" y1="320.40" x2="239.20" y2="320.40" stroke="#000" stroke-width="1.3" />
<line x1="258.00" y1="335.40" x2="258.00" y2="346.80" stroke="#000" stroke-width="1.3" />
<line x1="254.70" y1="335.40" x2="261.30" y2="335.40" stroke="#000" stroke-width="1.3" />
<line x1="254.70" y1="346.80" x2="261.30" y2="346.80" stroke="#000" stroke-width="1.3" />
<line x1="221.00" y1="306.20" x2="221.00" y2="354.40" stroke="#000" stroke-width="1.6" />
<line x1="220.20" y1="353.65" x2="273.70" y2="353.65" stroke="#000" stroke-width="1.6" />
<line x1="218.00" y1="353.65" x2="221.00" y2="353.65" stroke="#000" stroke-width="1.3" />
<text font-size="14.3" text-anchor="end" font-weight="normal" fill="#000" transform="translate(216.80,358.65) scale(1,1.07)" >0.0</text>
<line x1="218.00" y1="338.20" x2="221.00" y2="338.20" stroke="#000" stroke-width="1.3" />
<text font-size="14.3" text-anchor="end" font-weight="normal" fill="#000" transform="translate(216.80,343.20) scale(1,1.07)" >0.4</text>
<line x1="218.00" y1="322.75" x2="221.00" y2="322.75" stroke="#000" stroke-width="1.3" />
<text font-size="14.3" text-anchor="end" font-weight="normal" fill="#000" transform="translate(216.80,327.75) scale(1,1.07)" >0.8</text>
<line x1="218.00" y1="307.30" x2="221.00" y2="307.30" stroke="#000" stroke-width="1.3" />
<text font-size="14.3" text-anchor="end" font-weight="normal" fill="#000" transform="translate(216.80,312.30) scale(1,1.07)" >1.2</text>
<line x1="235.70" y1="353.65" x2="235.70" y2="356.50" stroke="#000" stroke-width="1.3" />
<line x1="258.00" y1="353.65" x2="258.00" y2="356.50" stroke="#000" stroke-width="1.3" />
<path d="M234.50,301.60 V296.50 H258.60 V301.60" fill="none" stroke="#000" stroke-width="1.4"/>
<text font-size="16" text-anchor="end" font-weight="normal" fill="#000" transform="translate(241.20,363.50) rotate(-45) scale(1,1.07)" >shNC</text>
<text font-size="16" text-anchor="end" font-weight="normal" fill="#000" transform="translate(263.20,363.80) rotate(-45) scale(1,1.07)" >shETV7</text>
<text x="382.3" y="277.2" font-size="22" fill="#000" stroke="#000" stroke-width="0.55" stroke-linejoin="round">D</text>
<circle cx="446.80" cy="283.30" r="1.7" fill="#1010ff"/>
<rect x="445.00" y="295.20" width="3.70" height="3.70" fill="#ff1515" stroke="none" stroke-width="0" />
<text font-size="15" text-anchor="start" font-weight="normal" fill="#000" transform="translate(466.00,288.30) scale(1,1.07)" >NC</text>
<text font-size="15" text-anchor="start" font-weight="normal" fill="#000" transform="translate(466.00,302.30) scale(1,1.07)" >ETV7</text>
<text font-size="15" text-anchor="middle" font-weight="normal" fill="#000" transform="translate(472.10,321.25) scale(1,1.07)" ><tspan font-style="italic">P</tspan> = 0.0004</text>
<path d="M460.50,327.50 V323.00 H475.50 V327.50" fill="none" stroke="#000" stroke-width="1.4"/>
<text font-size="15" text-anchor="middle" font-weight="normal" fill="#000" transform="translate(488.90,343.00) scale(1,1.07)" ><tspan font-style="italic">P</tspan> = 0.0011</text>
<path d="M498.60,348.60 V345.60 H514.20 V348.60" fill="none" stroke="#000" stroke-width="1.4"/>
<text font-size="15" text-anchor="start" font-weight="normal" fill="#000" transform="translate(414.30,414.90) rotate(-90) scale(1,1.07)" >CXCL1 (pg/ml)</text>
<rect x="454.90" y="374.10" width="10.00" height="10.40" fill="#7f7ff7" stroke="none" stroke-width="0" />
<rect x="469.80" y="357.40" width="9.90" height="27.10" fill="#ef7580" stroke="none" stroke-width="0" />
<rect x="494.00" y="370.40" width="9.90" height="14.10" fill="#7f7ff7" stroke="none" stroke-width="0" />
<rect x="508.90" y="356.70" width="9.90" height="27.80" fill="#ef7580" stroke="none" stroke-width="0" />
<circle cx="456.80" cy="376.00" r="1.9" fill="#0a0aff"/>
<circle cx="459.90" cy="371.00" r="1.9" fill="#0a0aff"/>
<circle cx="463.40" cy="375.40" r="1.9" fill="#0a0aff"/>
<circle cx="474.50" cy="353.00" r="1.9" fill="#ff1010"/>
<circle cx="474.50" cy="357.40" r="1.9" fill="#ff1010"/>
<circle cx="474.50" cy="361.10" r="1.9" fill="#ff1010"/>
<circle cx="495.90" cy="369.40" r="1.9" fill="#0a0aff"/>
<circle cx="495.90" cy="372.90" r="1.9" fill="#0a0aff"/>
<circle cx="502.00" cy="372.00" r="1.9" fill="#0a0aff"/>
<rect x="508.20" y="350.50" width="3.80" height="3.80" fill="#ff1010" stroke="none" stroke-width="0" />
<rect x="515.10" y="353.60" width="3.80" height="3.80" fill="#ff1010" stroke="none" stroke-width="0" />
<rect x="511.30" y="359.20" width="3.80" height="3.80" fill="#ff1010" stroke="none" stroke-width="0" />
<line x1="459.90" y1="371.60" x2="459.90" y2="377.20" stroke="#000" stroke-width="1.2" />
<line x1="458.00" y1="371.60" x2="461.80" y2="371.60" stroke="#000" stroke-width="1.2" />
<line x1="458.00" y1="377.20" x2="461.80" y2="377.20" stroke="#000" stroke-width="1.2" />
<line x1="474.50" y1="353.40" x2="474.50" y2="360.80" stroke="#000" stroke-width="1.2" />
<line x1="472.60" y1="353.40" x2="476.40" y2="353.40" stroke="#000" stroke-width="1.2" />
<line x1="472.60" y1="360.80" x2="476.40" y2="360.80" stroke="#000" stroke-width="1.2" />
<line x1="499.00" y1="369.80" x2="499.00" y2="373.20" stroke="#000" stroke-width="1.2" />
<line x1="497.10" y1="369.80" x2="500.90" y2="369.80" stroke="#000" stroke-width="1.2" />
<line x1="497.10" y1="373.20" x2="500.90" y2="373.20" stroke="#000" stroke-width="1.2" />
<line x1="513.90" y1="352.40" x2="513.90" y2="361.10" stroke="#000" stroke-width="1.2" />
<line x1="512.00" y1="352.40" x2="515.80" y2="352.40" stroke="#000" stroke-width="1.2" />
<line x1="512.00" y1="361.10" x2="515.80" y2="361.10" stroke="#000" stroke-width="1.2" />
<line x1="450.00" y1="346.80" x2="450.00" y2="385.20" stroke="#000" stroke-width="1.5" />
<line x1="449.30" y1="384.50" x2="524.70" y2="384.50" stroke="#000" stroke-width="1.5" />
<line x1="447.20" y1="384.50" x2="450.00" y2="384.50" stroke="#000" stroke-width="1.3" />
<text font-size="14.5" text-anchor="end" font-weight="normal" fill="#000" transform="translate(444.20,389.50) scale(1,1.07)" >0</text>
<line x1="447.20" y1="372.13" x2="450.00" y2="372.13" stroke="#000" stroke-width="1.3" />
<text font-size="14.5" text-anchor="end" font-weight="normal" fill="#000" transform="translate(444.20,377.13) scale(1,1.07)" >120</text>
<line x1="447.20" y1="359.76" x2="450.00" y2="359.76" stroke="#000" stroke-width="1.3" />
<text font-size="14.5" text-anchor="end" font-weight="normal" fill="#000" transform="translate(444.20,364.76) scale(1,1.07)" >240</text>
<line x1="447.20" y1="347.39" x2="450.00" y2="347.39" stroke="#000" stroke-width="1.3" />
<text font-size="14.5" text-anchor="end" font-weight="normal" fill="#000" transform="translate(444.20,352.39) scale(1,1.07)" >360</text>
<line x1="466.50" y1="384.50" x2="466.50" y2="387.20" stroke="#000" stroke-width="1.3" />
<line x1="506.40" y1="384.50" x2="506.40" y2="387.20" stroke="#000" stroke-width="1.3" />
<text font-size="16" text-anchor="end" font-weight="normal" fill="#000" transform="translate(471.50,393.50) rotate(-45) scale(1,1.07)" >RKO</text>
<text font-size="16" text-anchor="end" font-weight="normal" fill="#000" transform="translate(511.50,393.50) rotate(-45) scale(1,1.07)" >DLD1</text>
<circle cx="602.70" cy="286.80" r="1.7" fill="#9b72d8"/>
<rect x="600.90" y="298.80" width="3.70" height="3.70" fill="#38d2f6" stroke="none" stroke-width="0" />
<text font-size="15" text-anchor="start" font-weight="normal" fill="#000" transform="translate(621.50,292.60) scale(1,1.07)" >shNC</text>
<text font-size="15" text-anchor="start" font-weight="normal" fill="#000" transform="translate(621.50,306.50) scale(1,1.07)" >shETV7</text>
<text font-size="15" text-anchor="middle" font-weight="normal" fill="#000" transform="translate(628.70,322.80) scale(1,1.07)" ><tspan font-style="italic">P</tspan> = 0.0004</text>
<path d="M616.50,328.40 V325.20 H632.20 V328.40" fill="none" stroke="#000" stroke-width="1.4"/>
<text font-size="15" text-anchor="middle" font-weight="normal" fill="#000" transform="translate(646.60,344.60) scale(1,1.07)" ><tspan font-style="italic">P</tspan> = 0.0055</text>
<path d="M655.20,350.50 V347.40 H670.70 V350.50" fill="none" stroke="#000" stroke-width="1.4"/>
<text font-size="15" text-anchor="start" font-weight="normal" fill="#000" transform="translate(571.00,413.20) rotate(-90) scale(1,1.07)" >CXCL1 (pg/ml)</text>
<rect x="611.20" y="352.40" width="9.60" height="30.40" fill="#c9b9e8" stroke="none" stroke-width="0" />
<rect x="626.00" y="366.70" width="10.00" height="16.10" fill="#8eeafa" stroke="none" stroke-width="0" />
<rect x="650.90" y="358.60" width="9.90" height="24.20" fill="#c9b9e8" stroke="none" stroke-width="0" />
<rect x="665.10" y="367.50" width="9.90" height="15.30" fill="#8eeafa" stroke="none" stroke-width="0" />
<circle cx="616.10" cy="348.70" r="1.9" fill="#9b72d8"/>
<circle cx="612.40" cy="354.30" r="1.9" fill="#9b72d8"/>
<circle cx="619.20" cy="353.00" r="1.9" fill="#9b72d8"/>
<circle cx="655.80" cy="354.30" r="1.9" fill="#9b72d8"/>
<circle cx="652.70" cy="359.90" r="1.9" fill="#9b72d8"/>
<circle cx="658.90" cy="359.20" r="1.9" fill="#9b72d8"/>
<circle cx="631.00" cy="363.60" r="1.9" fill="#38d2f6"/>
<circle cx="629.80" cy="369.20" r="1.9" fill="#38d2f6"/>
<circle cx="632.90" cy="368.50" r="1.9" fill="#38d2f6"/>
<circle cx="670.10" cy="366.00" r="1.9" fill="#38d2f6"/>
<circle cx="667.60" cy="369.20" r="1.9" fill="#38d2f6"/>
<circle cx="673.20" cy="367.90" r="1.9" fill="#38d2f6"/>
<line x1="616.10" y1="349.30" x2="616.10" y2="355.50" stroke="#3c1e78" stroke-width="1.2" />
<line x1="614.20" y1="349.30" x2="618.00" y2="349.30" stroke="#3c1e78" stroke-width="1.2" />
<line x1="614.20" y1="355.50" x2="618.00" y2="355.50" stroke="#3c1e78" stroke-width="1.2" />
<line x1="631.00" y1="364.20" x2="631.00" y2="369.80" stroke="#2238b0" stroke-width="1.2" />
<line x1="629.10" y1="364.20" x2="632.90" y2="364.20" stroke="#2238b0" stroke-width="1.2" />
<line x1="629.10" y1="369.80" x2="632.90" y2="369.80" stroke="#2238b0" stroke-width="1.2" />
<line x1="655.80" y1="354.90" x2="655.80" y2="361.10" stroke="#3c1e78" stroke-width="1.2" />
<line x1="653.90" y1="354.90" x2="657.70" y2="354.90" stroke="#3c1e78" stroke-width="1.2" />
<line x1="653.90" y1="361.10" x2="657.70" y2="361.10" stroke="#3c1e78" stroke-width="1.2" />
<line x1="670.10" y1="366.00" x2="670.10" y2="368.80" stroke="#2238b0" stroke-width="1.2" />
<line x1="668.20" y1="366.00" x2="672.00" y2="366.00" stroke="#2238b0" stroke-width="1.2" />
<line x1="668.20" y1="368.80" x2="672.00" y2="368.80" stroke="#2238b0" stroke-width="1.2" />
<line x1="606.50" y1="345.60" x2="606.50" y2="383.50" stroke="#000" stroke-width="1.5" />
<line x1="605.80" y1="382.80" x2="681.30" y2="382.80" stroke="#000" stroke-width="1.5" />
<line x1="603.30" y1="382.80" x2="606.50" y2="382.80" stroke="#000" stroke-width="1.3" />
<text font-size="14.5" text-anchor="end" font-weight="normal" fill="#000" transform="translate(601.30,387.80) scale(1,1.07)" >0</text>
<line x1="603.30" y1="370.40" x2="606.50" y2="370.40" stroke="#000" stroke-width="1.3" />
<text font-size="14.5" text-anchor="end" font-weight="normal" fill="#000" transform="translate(601.30,375.40) scale(1,1.07)" >60</text>
<line x1="603.30" y1="358.00" x2="606.50" y2="358.00" stroke="#000" stroke-width="1.3" />
<text font-size="14.5" text-anchor="end" font-weight="normal" fill="#000" transform="translate(601.30,363.00) scale(1,1.07)" >120</text>
<line x1="603.30" y1="345.60" x2="606.50" y2="345.60" stroke="#000" stroke-width="1.3" />
<text font-size="14.5" text-anchor="end" font-weight="normal" fill="#000" transform="translate(601.30,350.60) scale(1,1.07)" >180</text>
<line x1="624.50" y1="382.80" x2="624.50" y2="385.20" stroke="#000" stroke-width="1.3" />
<line x1="664.00" y1="382.80" x2="664.00" y2="385.20" stroke="#000" stroke-width="1.3" />
<text font-size="16" text-anchor="end" font-weight="normal" fill="#000" transform="translate(629.00,392.00) rotate(-45) scale(1,1.07)" >HCT116</text>
<text font-size="16" text-anchor="end" font-weight="normal" fill="#000" transform="translate(668.00,392.50) rotate(-45) scale(1,1.07)" >SW620</text>
<text x="13.1" y="458.3" font-size="22" fill="#000" stroke="#000" stroke-width="0.55" stroke-linejoin="round">E</text>
<text font-size="15.8" text-anchor="start" font-weight="normal" fill="#000" transform="translate(57.50,586.25) rotate(-90) scale(1,1.07)" >Fold Enrichment</text>
<text font-size="15.8" text-anchor="start" font-weight="normal" fill="#000" transform="translate(77.80,596.25) rotate(-90) scale(1,1.07)" >(normalized to IgG)</text>
<circle cx="91.90" cy="467.00" r="1.7" fill="#1010ff"/>
<rect x="90.10" y="483.20" width="3.60" height="3.60" fill="#ff1515" stroke="none" stroke-width="0" />
<text font-size="15.2" text-anchor="start" font-weight="normal" fill="#000" transform="translate(112.90,472.40) scale(1,1.07)" >IgG</text>
<text font-size="15.2" text-anchor="start" font-weight="normal" fill="#000" transform="translate(112.90,490.00) scale(1,1.07)" >IP</text>
<text font-size="16" text-anchor="middle" font-weight="normal" fill="#000" transform="translate(166.30,505.50) scale(1,1.07)" ><tspan font-style="italic">P</tspan> = 0.0005</text>
<path d="M171.50,511.50 V508.20 H190.90 V511.50" fill="none" stroke="#000" stroke-width="1.4"/>
<text font-size="16" text-anchor="middle" font-weight="normal" fill="#000" transform="translate(147.75,530.40) scale(1,1.07)" ><tspan font-style="italic">P</tspan> = 0.0024</text>
<path d="M120.00,535.80 V532.30 H139.20 V535.80" fill="none" stroke="#000" stroke-width="1.4"/>
<rect x="112.60" y="565.20" width="12.70" height="3.30" fill="#1a1aff" stroke="none" stroke-width="0" />
<rect x="164.60" y="565.20" width="12.70" height="3.30" fill="#1a1aff" stroke="none" stroke-width="0" />
<circle cx="114.20" cy="565.40" r="1.4" fill="#1a1aff"/>
<circle cx="117.80" cy="565.40" r="1.4" fill="#1a1aff"/>
<circle cx="121.00" cy="565.40" r="1.4" fill="#1a1aff"/>
<circle cx="124.00" cy="565.40" r="1.4" fill="#1a1aff"/>
<circle cx="166.20" cy="565.40" r="1.4" fill="#1a1aff"/>
<circle cx="169.80" cy="565.40" r="1.4" fill="#1a1aff"/>
<circle cx="173.00" cy="565.40" r="1.4" fill="#1a1aff"/>
<circle cx="176.00" cy="565.40" r="1.4" fill="#1a1aff"/>
<rect x="133.40" y="547.50" width="10.20" height="19.90" fill="#f0808a" stroke="#ff1a1a" stroke-width="2.4" />
<rect x="185.50" y="541.60" width="10.20" height="25.80" fill="#f0808a" stroke="#ff1a1a" stroke-width="2.4" />
<line x1="138.70" y1="539.80" x2="138.70" y2="551.20" stroke="#ff1a1a" stroke-width="1.5" />
<line x1="135.70" y1="539.80" x2="141.70" y2="539.80" stroke="#ff1a1a" stroke-width="1.5" />
<line x1="135.70" y1="551.20" x2="141.70" y2="551.20" stroke="#ff1a1a" stroke-width="1.5" />
<line x1="190.60" y1="533.00" x2="190.60" y2="549.60" stroke="#ff1a1a" stroke-width="1.5" />
<line x1="187.10" y1="533.00" x2="194.10" y2="533.00" stroke="#ff1a1a" stroke-width="1.5" />
<line x1="187.10" y1="549.60" x2="194.10" y2="549.60" stroke="#ff1a1a" stroke-width="1.5" />
<rect x="137.00" y="540.30" width="3.40" height="3.40" fill="#ff1a1a" stroke="none" stroke-width="0" />
<rect x="137.00" y="547.30" width="3.40" height="3.40" fill="#ff1a1a" stroke="none" stroke-width="0" />
<rect x="183.80" y="533.00" width="3.60" height="3.60" fill="#ff1a1a" stroke="none" stroke-width="0" />
<rect x="193.60" y="534.50" width="3.60" height="3.60" fill="#ff1a1a" stroke="none" stroke-width="0" />
<rect x="188.50" y="546.60" width="3.60" height="3.60" fill="#ff1a1a" stroke="none" stroke-width="0" />
<line x1="105.40" y1="527.30" x2="105.40" y2="569.20" stroke="#000" stroke-width="1.4" />
<line x1="104.70" y1="568.50" x2="204.40" y2="568.50" stroke="#000" stroke-width="1.4" />
<line x1="102.60" y1="568.50" x2="105.40" y2="568.50" stroke="#000" stroke-width="1.3" />
<text font-size="15.5" text-anchor="end" font-weight="normal" fill="#000" transform="translate(101.50,574.40) scale(1,1.07)" >0</text>
<line x1="102.60" y1="555.00" x2="105.40" y2="555.00" stroke="#000" stroke-width="1.3" />
<text font-size="15.5" text-anchor="end" font-weight="normal" fill="#000" transform="translate(101.50,560.90) scale(1,1.07)" >5</text>
<line x1="102.60" y1="541.50" x2="105.40" y2="541.50" stroke="#000" stroke-width="1.3" />
<text font-size="15.5" text-anchor="end" font-weight="normal" fill="#000" transform="translate(101.50,547.40) scale(1,1.07)" >10</text>
<line x1="102.60" y1="528.00" x2="105.40" y2="528.00" stroke="#000" stroke-width="1.3" />
<text font-size="15.5" text-anchor="end" font-weight="normal" fill="#000" transform="translate(101.50,533.90) scale(1,1.07)" >15</text>
<line x1="128.20" y1="568.50" x2="128.20" y2="571.50" stroke="#000" stroke-width="1.3" />
<line x1="180.90" y1="568.50" x2="180.90" y2="571.50" stroke="#000" stroke-width="1.3" />
<text font-size="16" text-anchor="middle" font-weight="normal" fill="#000" transform="translate(128.70,585.30) scale(1,1.07)" >RKO</text>
<text font-size="16" text-anchor="middle" font-weight="normal" fill="#000" transform="translate(180.00,585.00) scale(1,1.07)" >DLD1</text>
<text x="237.4" y="443.2" font-size="22" fill="#000" stroke="#000" stroke-width="0.55" stroke-linejoin="round">F</text>
<text font-size="16.4" text-anchor="start" font-weight="normal" fill="#000" transform="translate(285.00,603.40) rotate(-90) scale(1,1.07)" >Relative Luciferase activity</text>
<circle cx="299.60" cy="420.40" r="1.75" fill="#1010ff"/>
<rect x="297.80" y="434.10" width="3.70" height="3.70" fill="#ff1515" stroke="none" stroke-width="0" />
<text font-size="15.7" text-anchor="start" font-weight="normal" fill="#000" transform="translate(320.40,425.80) scale(1,1.07)" >NC</text>
<text font-size="15.7" text-anchor="start" font-weight="normal" fill="#000" transform="translate(320.40,441.40) scale(1,1.07)" >ETV7</text>
<text font-size="16" text-anchor="middle" font-weight="normal" fill="#000" transform="translate(346.00,466.10) scale(1,1.07)" ><tspan font-style="italic">P</tspan> = 0.8846</text>
<path d="M339.00,472.80 V469.00 H358.30 V472.80" fill="none" stroke="#000" stroke-width="1.4"/>
<text font-size="16" text-anchor="middle" font-weight="normal" fill="#000" transform="translate(376.80,490.80) scale(1,1.07)" ><tspan font-style="italic">P</tspan> = 0.0070</text>
<path d="M388.30,497.40 V494.00 H407.70 V497.40" fill="none" stroke="#000" stroke-width="1.4"/>
<rect x="334.50" y="519.90" width="9.30" height="16.90" fill="#8080f4" stroke="#1f1fff" stroke-width="2.4" />
<rect x="352.90" y="518.00" width="9.50" height="18.80" fill="#f07f88" stroke="#ff1f1f" stroke-width="2.4" />
<rect x="383.70" y="517.50" width="10.10" height="19.30" fill="#8080f4" stroke="#1f1fff" stroke-width="2.4" />
<rect x="402.20" y="505.60" width="10.30" height="31.20" fill="#f07f88" stroke="#ff1f1f" stroke-width="2.4" />
<line x1="339.20" y1="516.40" x2="339.20" y2="521.00" stroke="#1f1fff" stroke-width="1.5" />
<line x1="336.20" y1="516.40" x2="342.20" y2="516.40" stroke="#1f1fff" stroke-width="1.5" />
<line x1="336.20" y1="521.00" x2="342.20" y2="521.00" stroke="#1f1fff" stroke-width="1.5" />
<line x1="357.60" y1="510.70" x2="357.60" y2="522.10" stroke="#ff1f1f" stroke-width="1.5" />
<line x1="354.60" y1="510.70" x2="360.60" y2="510.70" stroke="#ff1f1f" stroke-width="1.5" />
<line x1="354.60" y1="522.10" x2="360.60" y2="522.10" stroke="#ff1f1f" stroke-width="1.5" />
<line x1="388.70" y1="514.50" x2="388.70" y2="521.20" stroke="#1f1fff" stroke-width="1.5" />
<line x1="385.70" y1="514.50" x2="391.70" y2="514.50" stroke="#1f1fff" stroke-width="1.5" />
<line x1="385.70" y1="521.20" x2="391.70" y2="521.20" stroke="#1f1fff" stroke-width="1.5" />
<line x1="407.50" y1="500.60" x2="407.50" y2="507.00" stroke="#ff1f1f" stroke-width="1.5" />
<line x1="404.50" y1="500.60" x2="410.50" y2="500.60" stroke="#ff1f1f" stroke-width="1.5" />
<line x1="404.50" y1="507.00" x2="410.50" y2="507.00" stroke="#ff1f1f" stroke-width="1.5" />
<circle cx="336.00" cy="519.50" r="1.6" fill="#1f1fff"/>
<circle cx="339.20" cy="516.60" r="1.6" fill="#1f1fff"/>
<circle cx="342.50" cy="519.50" r="1.6" fill="#1f1fff"/>
<circle cx="385.50" cy="518.00" r="1.6" fill="#1f1fff"/>
<circle cx="388.70" cy="515.00" r="1.6" fill="#1f1fff"/>
<circle cx="391.70" cy="517.50" r="1.6" fill="#1f1fff"/>
<circle cx="388.70" cy="520.50" r="1.6" fill="#1f1fff"/>
<rect x="356.00" y="509.20" width="3.20" height="3.20" fill="#ff1f1f" stroke="none" stroke-width="0" />
<rect x="352.90" y="516.40" width="3.20" height="3.20" fill="#ff1f1f" stroke="none" stroke-width="0" />
<rect x="359.10" y="515.90" width="3.20" height="3.20" fill="#ff1f1f" stroke="none" stroke-width="0" />
<rect x="356.00" y="519.90" width="3.20" height="3.20" fill="#ff1f1f" stroke="none" stroke-width="0" />
<rect x="405.90" y="499.20" width="3.20" height="3.20" fill="#ff1f1f" stroke="none" stroke-width="0" />
<rect x="402.90" y="503.90" width="3.20" height="3.20" fill="#ff1f1f" stroke="none" stroke-width="0" />
<rect x="408.90" y="503.70" width="3.20" height="3.20" fill="#ff1f1f" stroke="none" stroke-width="0" />
<line x1="325.10" y1="497.60" x2="325.10" y2="538.60" stroke="#000" stroke-width="1.4" />
<line x1="324.40" y1="537.90" x2="420.60" y2="537.90" stroke="#000" stroke-width="1.4" />
<line x1="321.80" y1="537.90" x2="325.10" y2="537.90" stroke="#000" stroke-width="1.3" />
<text font-size="16" text-anchor="end" font-weight="normal" fill="#000" transform="translate(320.40,543.40) scale(1,1.07)" >0.0</text>
<line x1="321.80" y1="524.70" x2="325.10" y2="524.70" stroke="#000" stroke-width="1.3" />
<text font-size="16" text-anchor="end" font-weight="normal" fill="#000" transform="translate(320.40,530.20) scale(1,1.07)" >0.7</text>
<line x1="321.80" y1="511.50" x2="325.10" y2="511.50" stroke="#000" stroke-width="1.3" />
<text font-size="16" text-anchor="end" font-weight="normal" fill="#000" transform="translate(320.40,517.00) scale(1,1.07)" >1.4</text>
<line x1="321.80" y1="498.30" x2="325.10" y2="498.30" stroke="#000" stroke-width="1.3" />
<text font-size="16" text-anchor="end" font-weight="normal" fill="#000" transform="translate(320.40,503.80) scale(1,1.07)" >2.1</text>
<line x1="347.00" y1="537.90" x2="347.00" y2="540.70" stroke="#000" stroke-width="1.3" />
<line x1="397.75" y1="537.90" x2="397.75" y2="540.70" stroke="#000" stroke-width="1.3" />
<text font-size="16.8" text-anchor="end" font-weight="normal" fill="#000" transform="translate(354.20,550.00) rotate(-45) scale(1,1.07)" >pGL3-control</text>
<text font-size="16.8" text-anchor="end" font-weight="normal" fill="#000" transform="translate(402.70,552.00) rotate(-45) scale(1,1.07)" >pGL3-proCXCL1</text>
</svg>
</body></html>
